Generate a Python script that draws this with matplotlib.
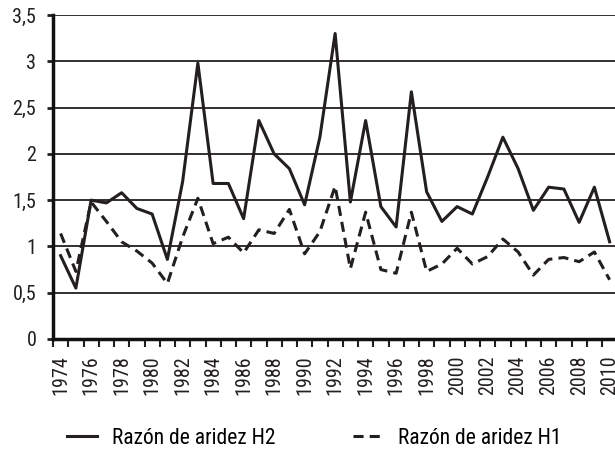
import matplotlib
matplotlib.use("Agg")
import matplotlib.pyplot as plt
from matplotlib import font_manager
from matplotlib.ticker import FixedLocator, FuncFormatter

years = list(range(1974, 2011))
h2 = [0.90, 0.55, 1.50, 1.47, 1.58, 1.41, 1.35, 0.86, 1.70, 2.98,
      1.68, 1.68, 1.30, 2.36, 2.00, 1.84, 1.45, 2.18, 3.30, 1.48,
      2.36, 1.43, 1.21, 2.67, 1.59, 1.27, 1.43, 1.35, 1.75, 2.18,
      1.84, 1.39, 1.64, 1.62, 1.26, 1.64, 1.05]
h1 = [1.14, 0.73, 1.48, 1.27, 1.05, 0.95, 0.82, 0.60, 1.10, 1.52,
      1.03, 1.10, 0.93, 1.18, 1.14, 1.40, 0.92, 1.16, 1.65, 0.76,
      1.37, 0.75, 0.71, 1.37, 0.73, 0.81, 0.98, 0.81, 0.89, 1.08,
      0.94, 0.69, 0.86, 0.88, 0.835, 0.94, 0.64]
label_h2 = "Razón de aridez H2"
label_h1 = "Razón de aridez H1"
yticks = [0, 0.5, 1, 1.5, 2, 2.5, 3, 3.5]

names = {f.name for f in font_manager.fontManager.ttflist}
family = 'Liberation Sans'
for cand in ['Liberation Sans Narrow', 'Roboto Condensed', 'Open Sans Condensed',
             'Liberation Sans']:
    if cand in names:
        family = cand
        break
plt.rcParams['font.family'] = [family, 'DejaVu Sans']
narrow = 'Narrow' in family or 'Condensed' in family
fs = 14.5 if narrow else 12
lfs = 15.5 if narrow else 13

fig = plt.figure(figsize=(6.15, 4.53), dpi=100)
W, H = 615, 453
ax = fig.add_axes([53 / W, (H - 339) / H, 37 * 15.25 / W, 324 / H])

ink = '#231f20'
ax.plot(years, h2, color=ink, lw=2.2, label=label_h2, zorder=3)
ax.plot(years, h1, color=ink, lw=2.2, ls=(0, (3.3, 2.0)), label=label_h1, zorder=3)

ax.set_xlim(years[0] - 0.5, years[-1] + 0.5)
ax.set_ylim(0, 3.5)

for v in yticks[1:]:
    ax.axhline(v, color=ink, lw=1.3, zorder=1)

ax.set_yticks(yticks)
ax.yaxis.set_major_formatter(FuncFormatter(lambda v, p: ('%g' % v).replace('.', ',')))
ax.tick_params(axis='y', length=4, width=2, labelsize=fs, colors=ink, pad=8)

ax.set_xticks(years[::2])
ax.set_xticklabels([str(y) for y in years[::2]], rotation=90)
ax.xaxis.set_minor_locator(FixedLocator([y - 0.5 for y in years] + [years[-1] + 0.5]))
ax.tick_params(axis='x', which='major', length=0, labelsize=fs, colors=ink, pad=12)
ax.tick_params(axis='x', which='minor', length=6, width=1.5, colors=ink)

for s in ['top', 'right']:
    ax.spines[s].set_visible(False)
for s in ['left', 'bottom']:
    ax.spines[s].set_linewidth(2.5)
    ax.spines[s].set_color('#111111')

fig.legend(loc='center left', bbox_to_anchor=(67 / W, 1 - 438 / H), ncol=2, frameon=False,
           fontsize=lfs, handlelength=1.4, columnspacing=3.6, handletextpad=0.7,
           borderpad=0, borderaxespad=0)

fig.savefig('out.png', dpi=100)
